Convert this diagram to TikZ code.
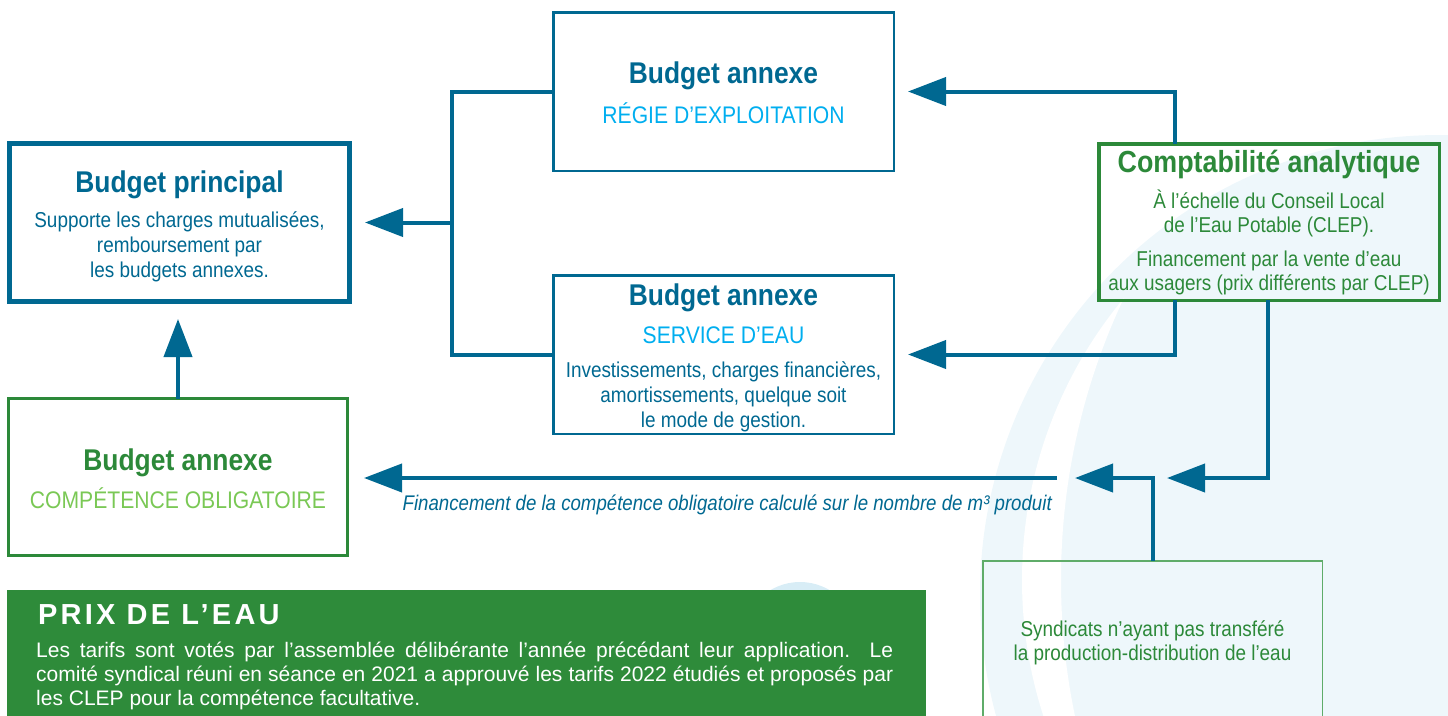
\documentclass[tikz,border=0pt]{standalone}
\usepackage{fontspec}
\setmainfont{Liberation Sans}
\newfontfamily\narrow{Liberation Sans}[FakeStretch=0.88]
\newfontfamily\prixtitle{Liberation Sans}[LetterSpace=11]
\usetikzlibrary{arrows.meta}
\definecolor{dblue}{RGB}{0,104,145}
\definecolor{cyanb}{RGB}{0,174,239}
\definecolor{gr}{RGB}{44,137,57}
\definecolor{lgr}{RGB}{122,200,85}
\definecolor{sgr}{RGB}{95,172,105}
\definecolor{pgreen}{RGB}{46,139,58}
\definecolor{bgblue}{RGB}{238,247,251}
\definecolor{bump}{RGB}{216,237,246}
\begin{document}
\begin{tikzpicture}[x=1pt,y=-1pt,
  box/.style={draw, rectangle, inner sep=0pt, outer sep=0pt},
  conn/.style={draw=dblue, line width=4pt},
  arr/.style={draw=dblue, line width=4pt, -{Triangle[length=38pt,width=28pt]}},
  ttl/.style={anchor=base, inner sep=0pt, font=\narrow\bfseries\fontsize{30}{30}\selectfont},
  subt/.style={anchor=base, inner sep=0pt, font=\narrow\fontsize{24}{24}\selectfont},
  txt/.style={anchor=base, inner sep=0pt, align=center, font=\narrow\fontsize{21.5}{25}\selectfont},
]
\useasboundingbox (0,0) rectangle (1448,715);
% background shapes
\fill[bgblue] (1440,595) circle[radius=460pt];
\begin{scope}
  \clip (1463,580) circle[radius=441pt];
  \fill[white, even odd rule] (900,0) rectangle (1460,900) (1723,580) circle[radius=662pt];
\end{scope}
\fill[bump] (800,640) circle[radius=58pt];

% boxes
\node[box, draw=dblue, line width=5pt, minimum width=340pt, minimum height=158pt] (bp) at (179.5,222.5) {};
\node[box, draw=dblue, line width=2.5pt, minimum width=340.5pt, minimum height=158.5pt] (rg) at (723.5,91.5) {};
\node[box, draw=dblue, line width=2.5pt, minimum width=340.5pt, minimum height=158.5pt] (sv) at (723.5,354.5) {};
\node[box, draw=gr, line width=3.5pt, minimum width=340.5pt, minimum height=156.5pt] (ca) at (1269,222) {};
\node[box, draw=gr, line width=3pt, minimum width=339pt, minimum height=157pt] (cp) at (178,477) {};
\node[box, draw=sgr, line width=1.5pt, minimum width=339.5pt, minimum height=157pt] (sy) at (1152.5,639.25) {};
\node[rectangle, inner sep=0pt, outer sep=0pt, draw=none, fill=pgreen, minimum width=919pt, minimum height=140pt, anchor=north west] (px) at (7,590) {};

% connectors
\coordinate (j) at (452,222.5);
\coordinate (c1) at (1175,0);
\coordinate (c2) at (1268,0);
\coordinate (c3) at (1153,0);
\coordinate (tA) at (1167,478);
\coordinate (tB) at (1075,478);
\coordinate (ls) at (1057,478);
\draw[conn] (rg.west) -| (j) |- (sv.west);
\draw[arr, shorten >=15.5pt] (j) -- (bp.east);
\draw[arr, shorten >=14.25pt] (ca.north -| c1) |- (rg.east);
\draw[arr, shorten >=14.25pt] (ca.south -| c1) |- (sv.east);
\draw[arr] (ca.south -| c2) |- (tA);
\draw[arr] (sy.north -| c3) |- (tB);
\draw[arr, shorten >=16.5pt] (ls) -- (ls -| cp.east);
\draw[arr, shorten >=17.5pt] (cp.north) -- (cp.north |- bp.south);

% texts
\node[ttl, text=dblue] (bpt) at (179.5,192) {Budget principal};
\node[txt, text=dblue] (bpb) at (179.5,277) {Supporte les charges mutualisées,\\remboursement par\\les budgets annexes.};

\node[ttl, text=dblue] (rgt) at (723.5,83) {Budget annexe};
\node[subt, text=cyanb] (rgs) at (723.5,123) {RÉGIE D’EXPLOITATION};

\node[ttl, text=dblue] (svt) at (723.5,305) {Budget annexe};
\node[subt, text=cyanb] (svs) at (723.5,343) {SERVICE D’EAU};
\node[txt, text=dblue] (svb) at (723.5,427) {Investissements, charges financières,\\amortissements, quelque soit\\le mode de gestion.};

\node[ttl, text=gr, font=\narrow\bfseries\fontsize{30.5}{30.5}\selectfont] (cat) at (1269,172) {Comptabilité analytique};
\node[txt, text=gr, font=\narrow\fontsize{21.5}{24}\selectfont] (cab1) at (1269,232) {À l’échelle du Conseil Local\\de l’Eau Potable (CLEP).};
\node[txt, text=gr, font=\narrow\fontsize{21.5}{24}\selectfont] (cab2) at (1269,290) {Financement par la vente d’eau\\aux usagers (prix différents par CLEP)};

\node[ttl, text=gr] (cpt) at (178,470) {Budget annexe};
\node[subt, text=lgr] (cps) at (178,508) {COMPÉTENCE OBLIGATOIRE};

\node[txt, text=gr, font=\narrow\fontsize{21.5}{24}\selectfont] (syt) at (1152.5,660) {Syndicats n’ayant pas transféré\\la production-distribution de l’eau};

\node[anchor=base east, inner sep=0pt, text=dblue, font=\narrow\itshape\fontsize{21.2}{21.2}\selectfont] (lbl) at (1052,510) {Financement de la compétence obligatoire calculé sur le nombre de m³ produit};

\node[anchor=base west, inner sep=0pt, text=white, font=\prixtitle\bfseries\fontsize{29}{29}\selectfont] (pxt) at (38,624) {PRIX DE L’EAU};
\node[anchor=north west, inner sep=0pt, text width=857pt, align=justify, text=white, font=\fontsize{21}{24}\selectfont] (pxb) at (36,642) {\noindent Les tarifs sont votés par l’assemblée délibérante l’année précédant leur application. Le\linebreak comité syndical réuni en séance en 2021 a approuvé les tarifs 2022 étudiés et proposés par\linebreak les CLEP pour la compétence facultative.};
\end{tikzpicture}
\end{document}
